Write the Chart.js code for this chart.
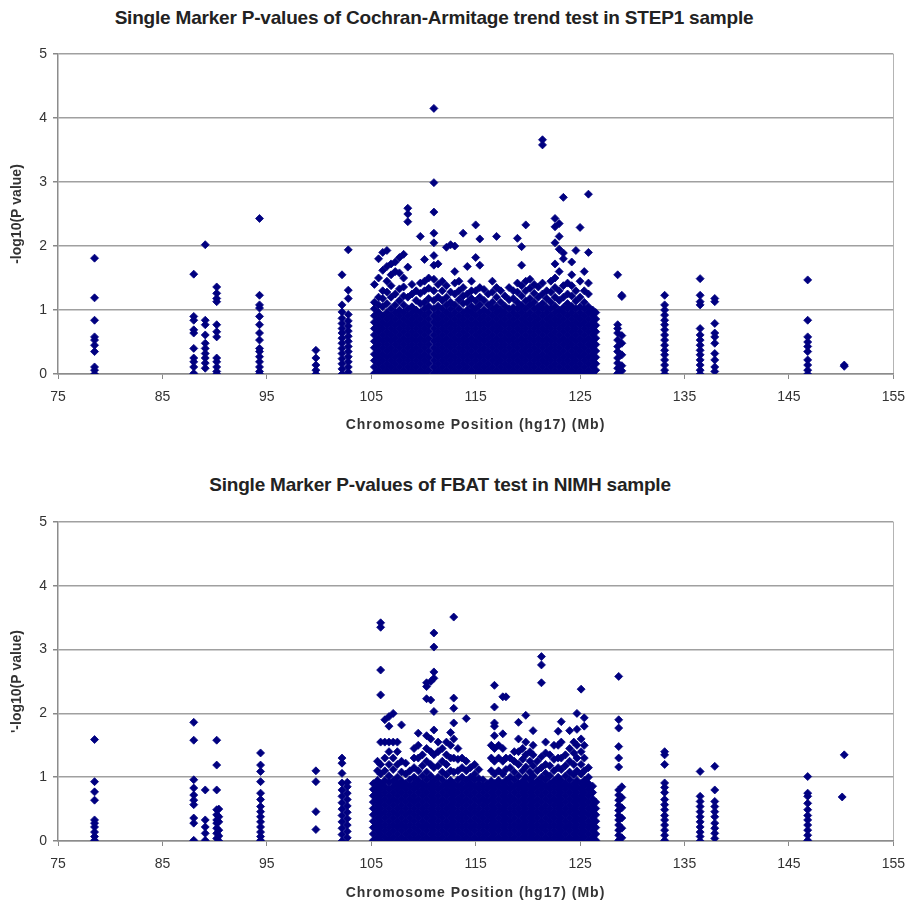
<!DOCTYPE html>
<html>
<head>
<meta charset="utf-8">
<script src="https://cdn.jsdelivr.net/npm/chart.js@4.4.1/dist/chart.umd.min.js"></script>
<style>
  body { margin: 0; background: #fff; width: 915px; height: 906px; position: relative; overflow: hidden; }
  canvas { position: absolute; left: 0; }
  .title { position: absolute; left: 0; text-align: center; font: bold 19px "Liberation Sans", Arial, sans-serif; letter-spacing: -0.2px; color: #222; line-height: 22px; }
  .xtitle { position: absolute; left: 58px; width: 835px; text-align: center; font: bold 14px "Liberation Sans", Arial, sans-serif; letter-spacing: 1px; color: #333; line-height: 16px; }
</style>
</head>
<body>
<div class="title" style="top:7px;width:868px;">Single Marker P-values of Cochran-Armitage trend test in STEP1 sample</div>
<canvas id="topChart" width="915" height="452" style="top:0px"></canvas>
<div class="xtitle" style="top:416px;">Chromosome Position (hg17) (Mb)</div>
<div class="title" style="top:474px;width:880px;">Single Marker P-values of FBAT test in NIMH sample</div>
<canvas id="bottomChart" width="915" height="454" style="top:452px"></canvas>
<div class="xtitle" style="top:884px;">Chromosome Position (hg17) (Mb)</div>
<script>
// x tick labels (Mb) and y tick labels
var xTicks = [75, 85, 95, 105, 115, 125, 135, 145, 155];
var yTicks = [0, 1, 2, 3, 4, 5];

// STEP1 sample, Cochran-Armitage trend test: marker positions (Mb) and -log10(P) of the markers there
var step1Pos = [78.5, 88.0, 89.1, 90.2, 94.3, 99.7, 102.2, 102.8,
  105.3, 105.7, 106.1, 106.5, 106.9, 107.3, 107.7, 108.1, 108.5, 108.9, 109.3, 109.7, 110.1, 110.5,
  111.0, 111.4, 111.8, 112.2, 112.6, 113.0, 113.4, 113.8, 114.2, 114.6, 115.0, 115.4, 115.8, 116.2,
  116.6, 117.0, 117.4, 117.8, 118.2, 118.6, 119.0, 119.4, 119.8, 120.2, 120.6, 121.0, 121.4, 121.8,
  122.2, 122.6, 123.0, 123.4, 123.8, 124.2, 124.6, 125.0, 125.4, 125.8, 126.2, 126.5,
  128.6, 129.0, 133.1, 136.5, 137.9, 146.8, 150.3];
var step1LogP = [
  [1.81, 1.19, 0.84, 0.58, 0.53, 0.45, 0.35, 0.11, 0.06, 0.0],
  [1.56, 0.9, 0.84, 0.69, 0.64, 0.4, 0.25, 0.19, 0.11, 0.01],
  [2.02, 0.84, 0.77, 0.61, 0.48, 0.4, 0.32, 0.25, 0.17, 0.09],
  [1.36, 1.26, 1.18, 1.13, 0.77, 0.66, 0.58, 0.25, 0.19, 0.11, 0.04, 0.0],
  [2.43, 1.23, 1.08, 1.03, 0.9, 0.77, 0.64, 0.53, 0.4, 0.35, 0.27, 0.19, 0.11, 0.04, 0.0],
  [0.37, 0.25, 0.14, 0.06, 0.0],
  [1.55, 1.08, 0.97, 0.87, 0.79, 0.71, 0.64, 0.56, 0.48, 0.4, 0.32, 0.24, 0.16, 0.08, 0.0],
  [1.94, 1.31, 1.18, 0.93, 0.83, 0.75, 0.67, 0.59, 0.51, 0.43, 0.35, 0.27, 0.19, 0.11, 0.03],
  [0.01, 0.11, 0.21, 0.31, 0.41, 0.51, 0.61, 0.71, 0.81, 0.91, 1.02, 1.12, 1.4],
  [0.06, 0.16, 0.26, 0.36, 0.46, 0.56, 0.66, 0.76, 0.86, 0.96, 1.08, 1.2, 1.5, 1.8],
  [0.01, 0.11, 0.21, 0.31, 0.41, 0.51, 0.61, 0.71, 0.81, 0.91, 1.05, 1.18, 1.3, 1.62, 1.9],
  [0.06, 0.16, 0.26, 0.36, 0.46, 0.56, 0.66, 0.76, 0.86, 0.96, 1.1, 1.28, 1.45, 1.68, 1.93],
  [0.01, 0.11, 0.21, 0.31, 0.41, 0.51, 0.61, 0.71, 0.81, 0.91, 1.02, 1.2, 1.38, 1.55, 1.72],
  [0.06, 0.16, 0.26, 0.36, 0.46, 0.56, 0.66, 0.76, 0.86, 0.96, 1.08, 1.25, 1.6, 1.75],
  [0.01, 0.11, 0.21, 0.31, 0.41, 0.51, 0.61, 0.71, 0.81, 0.91, 1.0, 1.15, 1.33, 1.58, 1.82],
  [0.06, 0.16, 0.26, 0.36, 0.46, 0.56, 0.66, 0.76, 0.86, 0.96, 1.08, 1.22, 1.36, 1.5, 1.87],
  [0.01, 0.11, 0.21, 0.31, 0.41, 0.51, 0.61, 0.71, 0.81, 0.91, 1.02, 1.2, 1.67, 2.38, 2.5, 2.59],
  [0.06, 0.16, 0.26, 0.36, 0.46, 0.56, 0.66, 0.76, 0.86, 0.96, 1.05, 1.25, 1.4],
  [0.01, 0.11, 0.21, 0.31, 0.41, 0.51, 0.61, 0.71, 0.81, 0.91, 1.0, 1.15, 1.3],
  [0.06, 0.16, 0.26, 0.36, 0.46, 0.56, 0.66, 0.76, 0.86, 0.96, 1.1, 1.26, 1.42, 2.15],
  [0.01, 0.11, 0.21, 0.31, 0.41, 0.51, 0.61, 0.71, 0.81, 0.91, 1.02, 1.12, 1.3, 1.45, 1.79],
  [0.06, 0.16, 0.26, 0.36, 0.46, 0.56, 0.66, 0.76, 0.86, 0.96, 1.06, 1.18, 1.34, 1.5],
  [0.01, 0.11, 0.21, 0.31, 0.41, 0.51, 0.61, 0.71, 0.81, 0.91, 1.02, 1.15, 1.3, 1.48, 1.7, 1.85, 2.05, 2.2, 2.53, 2.99, 4.15],
  [0.06, 0.16, 0.26, 0.36, 0.46, 0.56, 0.66, 0.76, 0.86, 0.96, 1.06, 1.2, 1.4, 1.72],
  [0.01, 0.11, 0.21, 0.31, 0.41, 0.51, 0.61, 0.71, 0.81, 0.91, 1.02, 1.15, 1.3, 1.45],
  [0.06, 0.16, 0.26, 0.36, 0.46, 0.56, 0.66, 0.76, 0.86, 0.96, 1.08, 1.2, 1.38, 1.98],
  [0.01, 0.11, 0.21, 0.31, 0.41, 0.51, 0.61, 0.71, 0.81, 0.91, 1.02, 1.12, 1.28, 2.02],
  [0.06, 0.16, 0.26, 0.36, 0.46, 0.56, 0.66, 0.76, 0.86, 0.96, 1.08, 1.25, 1.42, 1.6, 2.0],
  [0.01, 0.11, 0.21, 0.31, 0.41, 0.51, 0.61, 0.71, 0.81, 0.91, 1.02, 1.16, 1.3, 1.45],
  [0.06, 0.16, 0.26, 0.36, 0.46, 0.56, 0.66, 0.76, 0.86, 0.96, 1.1, 1.22, 1.35, 2.2],
  [0.01, 0.11, 0.21, 0.31, 0.41, 0.51, 0.61, 0.71, 0.81, 0.91, 1.0, 1.12, 1.25, 1.68],
  [0.06, 0.16, 0.26, 0.36, 0.46, 0.56, 0.66, 0.76, 0.86, 0.96, 1.06, 1.18, 1.3, 1.45],
  [0.01, 0.11, 0.21, 0.31, 0.41, 0.51, 0.61, 0.71, 0.81, 0.91, 1.02, 1.14, 1.3, 1.82, 2.33],
  [0.06, 0.16, 0.26, 0.36, 0.46, 0.56, 0.66, 0.76, 0.86, 0.96, 1.08, 1.2, 1.35, 1.7, 2.11],
  [0.01, 0.11, 0.21, 0.31, 0.41, 0.51, 0.61, 0.71, 0.81, 0.91, 1.0, 1.15, 1.32],
  [0.06, 0.16, 0.26, 0.36, 0.46, 0.56, 0.66, 0.76, 0.86, 0.96, 1.08, 1.25],
  [0.01, 0.11, 0.21, 0.31, 0.41, 0.51, 0.61, 0.71, 0.81, 0.91, 1.02, 1.12, 1.28, 1.45],
  [0.06, 0.16, 0.26, 0.36, 0.46, 0.56, 0.66, 0.76, 0.86, 0.96, 1.05, 1.2, 1.35, 2.15],
  [0.01, 0.11, 0.21, 0.31, 0.41, 0.51, 0.61, 0.71, 0.81, 0.91, 1.0, 1.12, 1.3],
  [0.06, 0.16, 0.26, 0.36, 0.46, 0.56, 0.66, 0.76, 0.86, 0.96, 1.06, 1.22],
  [0.01, 0.11, 0.21, 0.31, 0.41, 0.51, 0.61, 0.71, 0.81, 0.91, 1.02, 1.16, 1.35],
  [0.06, 0.16, 0.26, 0.36, 0.46, 0.56, 0.66, 0.76, 0.86, 0.96, 1.04, 1.18, 1.3],
  [0.01, 0.11, 0.21, 0.31, 0.41, 0.51, 0.61, 0.71, 0.81, 0.91, 1.02, 1.12, 1.28, 1.42, 2.12],
  [0.06, 0.16, 0.26, 0.36, 0.46, 0.56, 0.66, 0.76, 0.86, 0.96, 1.07, 1.22, 1.38, 1.7, 1.99],
  [0.01, 0.11, 0.21, 0.31, 0.41, 0.51, 0.61, 0.71, 0.81, 0.91, 1.02, 1.14, 1.3, 1.45, 2.33],
  [0.06, 0.16, 0.26, 0.36, 0.46, 0.56, 0.66, 0.76, 0.86, 0.96, 1.08, 1.18, 1.34, 1.48],
  [0.01, 0.11, 0.21, 0.31, 0.41, 0.51, 0.61, 0.71, 0.81, 0.91, 1.02, 1.12, 1.26, 1.4],
  [0.06, 0.16, 0.26, 0.36, 0.46, 0.56, 0.66, 0.76, 0.86, 0.96, 1.05, 1.2, 1.36],
  [0.01, 0.11, 0.21, 0.31, 0.41, 0.51, 0.61, 0.71, 0.81, 0.91, 1.02, 1.1, 1.25, 1.42, 3.58, 3.66],
  [0.06, 0.16, 0.26, 0.36, 0.46, 0.56, 0.66, 0.76, 0.86, 0.96, 1.04, 1.18, 1.3],
  [0.01, 0.11, 0.21, 0.31, 0.41, 0.51, 0.61, 0.71, 0.81, 0.91, 1.02, 1.12, 1.28, 1.45],
  [0.06, 0.16, 0.26, 0.36, 0.46, 0.56, 0.66, 0.76, 0.86, 0.96, 1.06, 1.2, 1.35, 1.5, 1.72, 2.05, 2.3, 2.43],
  [0.01, 0.11, 0.21, 0.31, 0.41, 0.51, 0.61, 0.71, 0.81, 0.91, 1.0, 1.15, 1.3, 1.6, 1.95, 2.15, 2.35],
  [0.06, 0.16, 0.26, 0.36, 0.46, 0.56, 0.66, 0.76, 0.86, 0.96, 1.04, 1.2, 1.38, 1.8, 1.89, 2.76],
  [0.01, 0.11, 0.21, 0.31, 0.41, 0.51, 0.61, 0.71, 0.81, 0.91, 1.02, 1.1, 1.25, 1.42],
  [0.06, 0.16, 0.26, 0.36, 0.46, 0.56, 0.66, 0.76, 0.86, 0.96, 1.06, 1.22, 1.38, 1.55, 1.75],
  [0.01, 0.11, 0.21, 0.31, 0.41, 0.51, 0.61, 0.71, 0.81, 0.91, 1.02, 1.14, 1.3, 1.93],
  [0.06, 0.16, 0.26, 0.36, 0.46, 0.56, 0.66, 0.76, 0.86, 0.96, 1.05, 1.2, 1.45, 2.29],
  [0.01, 0.11, 0.21, 0.31, 0.41, 0.51, 0.61, 0.71, 0.81, 0.91, 1.02, 1.12, 1.3, 1.6],
  [0.06, 0.16, 0.26, 0.36, 0.46, 0.56, 0.66, 0.76, 0.86, 0.96, 1.05, 1.25, 1.42, 1.9, 2.81],
  [0.01, 0.11, 0.21, 0.31, 0.41, 0.51, 0.61, 0.71, 0.81, 0.91, 1.0],
  [0.06, 0.16, 0.26, 0.36, 0.46, 0.56, 0.66, 0.76, 0.86, 0.96],
  [1.55, 0.77, 0.71, 0.64, 0.53, 0.43, 0.35, 0.25, 0.17, 0.09, 0.01],
  [1.23, 1.21, 0.6, 0.48, 0.3, 0.13, 0.05],
  [1.23, 1.08, 1.0, 0.92, 0.84, 0.77, 0.69, 0.61, 0.53, 0.45, 0.37, 0.3, 0.22, 0.14, 0.06, 0.0],
  [1.49, 1.23, 1.13, 1.08, 0.71, 0.61, 0.53, 0.45, 0.37, 0.3, 0.22, 0.14, 0.06, 0.0],
  [1.18, 1.13, 0.79, 0.64, 0.58, 0.48, 0.32, 0.22, 0.11, 0.04],
  [1.47, 0.84, 0.58, 0.5, 0.43, 0.35, 0.22, 0.14, 0.06, 0.0],
  [0.14, 0.12]
];

// NIMH sample, FBAT test
var nimhPos = [78.5, 88.0, 89.1, 90.2, 90.4, 94.4, 99.7, 102.2, 102.7,
  105.2, 105.6, 105.9, 106.3, 106.7, 107.1, 107.5, 107.9, 108.3, 108.7, 109.1, 109.5, 109.9, 110.3,
  110.7, 111.0, 111.4, 111.8, 112.2, 112.6, 112.9, 113.3, 113.7, 114.1, 114.5, 114.9, 115.3, 115.7,
  116.1, 116.5, 116.8, 117.2, 117.6, 117.9, 118.3, 118.7, 119.1, 119.5, 119.8, 120.2, 120.5, 120.9,
  121.3, 121.7, 122.1, 122.5, 122.9, 123.2, 123.6, 124.0, 124.4, 124.7, 125.1, 125.4, 125.8, 126.2, 126.5,
  128.7, 129.0, 133.1, 136.5, 137.9, 146.8, 150.1, 150.3];
var nimhLogP = [
  [1.59, 0.93, 0.77, 0.64, 0.33, 0.28, 0.22, 0.14, 0.07, 0.01],
  [1.86, 1.58, 0.96, 0.83, 0.72, 0.64, 0.57, 0.36, 0.28, 0.01],
  [0.8, 0.33, 0.22, 0.12, 0.01],
  [1.58, 1.19, 0.8, 0.49, 0.41, 0.33, 0.28, 0.2, 0.12, 0.04],
  [0.5, 0.38, 0.3, 0.17, 0.08, 0.0],
  [1.38, 1.19, 1.09, 0.93, 0.75, 0.65, 0.54, 0.46, 0.38, 0.3, 0.22, 0.14, 0.07, 0.01],
  [1.1, 0.93, 0.46, 0.18],
  [1.3, 1.22, 1.06, 0.91, 0.8, 0.7, 0.6, 0.5, 0.4, 0.3, 0.2, 0.1, 0.0],
  [0.92, 0.85, 0.75, 0.65, 0.55, 0.45, 0.35, 0.25, 0.15, 0.05],
  [0.01, 0.11, 0.21, 0.31, 0.41, 0.51, 0.61, 0.71, 0.81, 0.9],
  [0.06, 0.16, 0.26, 0.36, 0.46, 0.56, 0.66, 0.76, 0.86, 0.95, 1.1, 1.25],
  [0.01, 0.11, 0.21, 0.31, 0.41, 0.51, 0.61, 0.71, 0.81, 0.9, 1.05, 1.2, 1.55, 2.29, 2.68, 3.35, 3.42],
  [0.06, 0.16, 0.26, 0.36, 0.46, 0.56, 0.66, 0.76, 0.86, 0.95, 1.1, 1.3, 1.55, 1.9],
  [0.01, 0.11, 0.21, 0.31, 0.41, 0.51, 0.61, 0.71, 0.81, 0.92, 1.02, 1.2, 1.4, 1.55, 1.8, 1.95],
  [0.06, 0.16, 0.26, 0.36, 0.46, 0.56, 0.66, 0.76, 0.86, 0.95, 1.12, 1.3, 1.55, 2.0],
  [0.01, 0.11, 0.21, 0.31, 0.41, 0.51, 0.61, 0.71, 0.81, 0.9, 1.0, 1.2, 1.4, 1.55],
  [0.06, 0.16, 0.26, 0.36, 0.46, 0.56, 0.66, 0.76, 0.86, 0.94, 1.08, 1.25, 1.82],
  [0.01, 0.11, 0.21, 0.31, 0.41, 0.51, 0.61, 0.71, 0.81, 0.9, 1.05, 1.22],
  [0.06, 0.16, 0.26, 0.36, 0.46, 0.56, 0.66, 0.76, 0.86, 0.96, 1.1],
  [0.01, 0.11, 0.21, 0.31, 0.41, 0.51, 0.61, 0.71, 0.81, 0.9, 1.0, 1.15, 1.3, 1.45],
  [0.06, 0.16, 0.26, 0.36, 0.46, 0.56, 0.66, 0.76, 0.86, 0.95, 1.1, 1.3, 1.5, 1.69],
  [0.01, 0.11, 0.21, 0.31, 0.41, 0.51, 0.61, 0.71, 0.81, 0.9, 1.02, 1.18, 1.35],
  [0.06, 0.16, 0.26, 0.36, 0.46, 0.56, 0.66, 0.76, 0.86, 0.96, 1.08, 1.25, 1.45, 1.65, 2.23, 2.42, 2.48],
  [0.01, 0.11, 0.21, 0.31, 0.41, 0.51, 0.61, 0.71, 0.81, 0.9, 1.02, 1.2, 1.4, 1.6, 2.21, 2.5],
  [0.06, 0.16, 0.26, 0.36, 0.46, 0.56, 0.66, 0.76, 0.86, 0.95, 1.15, 1.35, 1.74, 2.03, 2.55, 2.65, 3.04, 3.26],
  [0.01, 0.11, 0.21, 0.31, 0.41, 0.51, 0.61, 0.71, 0.81, 0.9, 1.0, 1.18, 1.4, 1.55],
  [0.06, 0.16, 0.26, 0.36, 0.46, 0.56, 0.66, 0.76, 0.86, 0.96, 1.08, 1.25, 1.45],
  [0.01, 0.11, 0.21, 0.31, 0.41, 0.51, 0.61, 0.71, 0.81, 0.9, 1.04, 1.2, 1.35, 1.55],
  [0.06, 0.16, 0.26, 0.36, 0.46, 0.56, 0.66, 0.76, 0.86, 0.95, 1.1, 1.3, 1.5, 1.7],
  [0.01, 0.11, 0.21, 0.31, 0.41, 0.51, 0.61, 0.71, 0.81, 0.9, 1.08, 1.3, 1.6, 1.85, 2.08, 2.24, 3.51],
  [0.06, 0.16, 0.26, 0.36, 0.46, 0.56, 0.66, 0.76, 0.86, 0.96, 1.1, 1.28, 1.45],
  [0.01, 0.11, 0.21, 0.31, 0.41, 0.51, 0.61, 0.71, 0.81, 0.9, 1.0, 1.15, 1.3],
  [0.06, 0.16, 0.26, 0.36, 0.46, 0.56, 0.66, 0.76, 0.86, 0.95, 1.1, 1.25, 1.92],
  [0.01, 0.11, 0.21, 0.31, 0.41, 0.51, 0.61, 0.71, 0.81, 0.9, 1.0, 1.15],
  [0.06, 0.16, 0.26, 0.36, 0.46, 0.56, 0.66, 0.76, 0.86, 0.96, 1.05, 1.2],
  [0.01, 0.11, 0.21, 0.31, 0.41, 0.51, 0.61, 0.71, 0.81, 0.9, 0.98, 1.12],
  [0.06, 0.16, 0.26, 0.36, 0.46, 0.56, 0.66, 0.76, 0.86, 0.96],
  [0.01, 0.11, 0.21, 0.31, 0.41, 0.51, 0.61, 0.71, 0.81, 0.9],
  [0.06, 0.16, 0.26, 0.36, 0.46, 0.56, 0.66, 0.76, 0.86, 0.94, 1.1, 1.3, 1.5],
  [0.01, 0.11, 0.21, 0.31, 0.41, 0.51, 0.61, 0.71, 0.81, 0.9, 1.05, 1.25, 1.45, 1.65, 1.8, 1.85, 2.1, 2.44],
  [0.06, 0.16, 0.26, 0.36, 0.46, 0.56, 0.66, 0.76, 0.86, 0.95, 1.1, 1.3, 1.5],
  [0.01, 0.11, 0.21, 0.31, 0.41, 0.51, 0.61, 0.71, 0.81, 0.9, 1.05, 1.25, 1.45, 1.68, 2.26],
  [0.06, 0.16, 0.26, 0.36, 0.46, 0.56, 0.66, 0.76, 0.86, 0.95, 1.12, 1.3, 2.26],
  [0.01, 0.11, 0.21, 0.31, 0.41, 0.51, 0.61, 0.71, 0.81, 0.9, 1.0, 1.15, 1.3],
  [0.06, 0.16, 0.26, 0.36, 0.46, 0.56, 0.66, 0.76, 0.86, 0.96, 1.08, 1.25, 1.4],
  [0.01, 0.11, 0.21, 0.31, 0.41, 0.51, 0.61, 0.71, 0.81, 0.9, 1.02, 1.2, 1.4, 1.6, 1.86],
  [0.06, 0.16, 0.26, 0.36, 0.46, 0.56, 0.66, 0.76, 0.86, 0.94, 1.1, 1.28, 1.45],
  [0.01, 0.11, 0.21, 0.31, 0.41, 0.51, 0.61, 0.71, 0.81, 0.9, 1.0, 1.16, 1.35, 1.55, 1.97],
  [0.06, 0.16, 0.26, 0.36, 0.46, 0.56, 0.66, 0.76, 0.86, 0.96, 1.08, 1.25, 1.4],
  [0.01, 0.11, 0.21, 0.31, 0.41, 0.51, 0.61, 0.71, 0.81, 0.9, 1.02, 1.18, 1.35, 1.5, 1.73],
  [0.06, 0.16, 0.26, 0.36, 0.46, 0.56, 0.66, 0.76, 0.86, 0.94, 1.1, 1.25],
  [0.01, 0.11, 0.21, 0.31, 0.41, 0.51, 0.61, 0.71, 0.81, 0.9, 1.0, 1.15, 1.32, 2.48, 2.76, 2.89],
  [0.06, 0.16, 0.26, 0.36, 0.46, 0.56, 0.66, 0.76, 0.86, 0.96, 1.06, 1.2, 1.38, 1.55],
  [0.01, 0.11, 0.21, 0.31, 0.41, 0.51, 0.61, 0.71, 0.81, 0.9, 1.02, 1.18, 1.35],
  [0.06, 0.16, 0.26, 0.36, 0.46, 0.56, 0.66, 0.76, 0.86, 0.94, 1.1, 1.28, 1.5],
  [0.01, 0.11, 0.21, 0.31, 0.41, 0.51, 0.61, 0.71, 0.81, 0.9, 1.0, 1.15, 1.3, 1.5, 1.72],
  [0.06, 0.16, 0.26, 0.36, 0.46, 0.56, 0.66, 0.76, 0.86, 0.95, 1.12, 1.3, 1.55, 1.87],
  [0.01, 0.11, 0.21, 0.31, 0.41, 0.51, 0.61, 0.71, 0.81, 0.9, 1.02, 1.18, 1.35],
  [0.06, 0.16, 0.26, 0.36, 0.46, 0.56, 0.66, 0.76, 0.86, 0.96, 1.08, 1.25, 1.45, 1.73],
  [0.01, 0.11, 0.21, 0.31, 0.41, 0.51, 0.61, 0.71, 0.81, 0.9, 1.04, 1.2, 1.38, 1.55],
  [0.06, 0.16, 0.26, 0.36, 0.46, 0.56, 0.66, 0.76, 0.86, 0.95, 1.1, 1.3, 1.5, 1.75, 2.0],
  [0.01, 0.11, 0.21, 0.31, 0.41, 0.51, 0.61, 0.71, 0.81, 0.9, 1.05, 1.2, 1.4, 1.6, 2.38],
  [0.06, 0.16, 0.26, 0.36, 0.46, 0.56, 0.66, 0.76, 0.86, 0.95, 1.1, 1.3, 1.5, 1.8, 1.93],
  [0.01, 0.11, 0.21, 0.31, 0.41, 0.51, 0.61, 0.71, 0.81, 0.9, 1.0, 1.15],
  [0.06, 0.16, 0.26, 0.36, 0.46, 0.56, 0.66, 0.76, 0.86],
  [0.01, 0.11, 0.21, 0.31, 0.41, 0.51, 0.61],
  [2.58, 1.9, 1.77, 1.48, 1.3, 1.16, 0.8, 0.72, 0.64, 0.56, 0.48, 0.4, 0.33, 0.25, 0.17, 0.09, 0.01],
  [0.85, 0.68, 0.52, 0.36, 0.2, 0.05],
  [1.4, 1.35, 1.2, 0.91, 0.84, 0.76, 0.65, 0.57, 0.49, 0.4, 0.33, 0.25, 0.17, 0.09, 0.01],
  [1.09, 0.7, 0.62, 0.54, 0.46, 0.38, 0.3, 0.22, 0.14, 0.07, 0.0],
  [1.17, 0.8, 0.62, 0.54, 0.46, 0.38, 0.28, 0.2, 0.12, 0.04],
  [1.01, 0.75, 0.7, 0.59, 0.49, 0.4, 0.33, 0.25, 0.17, 0.09, 0.01],
  [0.69],
  [1.35]
];

Chart.defaults.font.family = '"Liberation Sans", Arial, sans-serif';

function toPoints(pos, logp) {
  var pts = [];
  for (var i = 0; i < pos.length; i++) {
    for (var j = 0; j < logp[i].length; j++) {
      pts.push({ x: pos[i], y: logp[i][j] });
    }
  }
  return pts;
}

function makeChart(id, pos, logp, yTitle, pad) {
  return new Chart(document.getElementById(id), {
    type: 'scatter',
    data: {
      datasets: [{
        data: toPoints(pos, logp),
        pointStyle: 'rectRot',
        pointRadius: 4,
        pointBorderWidth: 0.8,
        backgroundColor: '#000080',
        borderColor: '#000080'
      }]
    },
    options: {
      responsive: false,
      animation: false,
      layout: { padding: pad },
      plugins: { legend: { display: false }, tooltip: { enabled: false } },
      scales: {
        x: {
          type: 'linear',
          min: xTicks[0],
          max: xTicks[xTicks.length - 1],
          afterBuildTicks: function(s) { s.ticks = xTicks.map(function(v) { return { value: v }; }); },
          ticks: { padding: 10, color: '#333', font: { size: 14 } },
          grid: {
            color: function(c) { return c.tick && c.tick.value === 155 ? '#b4b4b4' : 'rgba(0,0,0,0)'; },
            tickColor: '#888',
            tickLength: 5
          },
          border: { color: '#8c8c8c', width: 1.5 },
          afterFit: function(s) { s.height = 60; }
        },
        y: {
          min: yTicks[0],
          max: yTicks[yTicks.length - 1],
          afterBuildTicks: function(s) { s.ticks = yTicks.map(function(v) { return { value: v }; }); },
          ticks: { padding: 6, color: '#333', font: { size: 14 } },
          grid: { color: '#a0a0a0', lineWidth: 1.5, tickColor: '#888', tickLength: 5 },
          border: { color: '#8c8c8c', width: 1.5 },
          title: {
            display: true,
            text: yTitle,
            color: '#333',
            font: { size: 14, weight: 'bold' },
            padding: { top: 9, bottom: 0 }
          },
          afterFit: function(s) { s.width = 58; }
        }
      }
    }
  });
}

makeChart('topChart', step1Pos, step1LogP, '-log10(P value)', { top: 54, right: 14, bottom: 18, left: 0 });
makeChart('bottomChart', nimhPos, nimhLogP, "'-log10(P value)", { top: 70, right: 14, bottom: 5, left: 0 });
</script>
</body>
</html>
